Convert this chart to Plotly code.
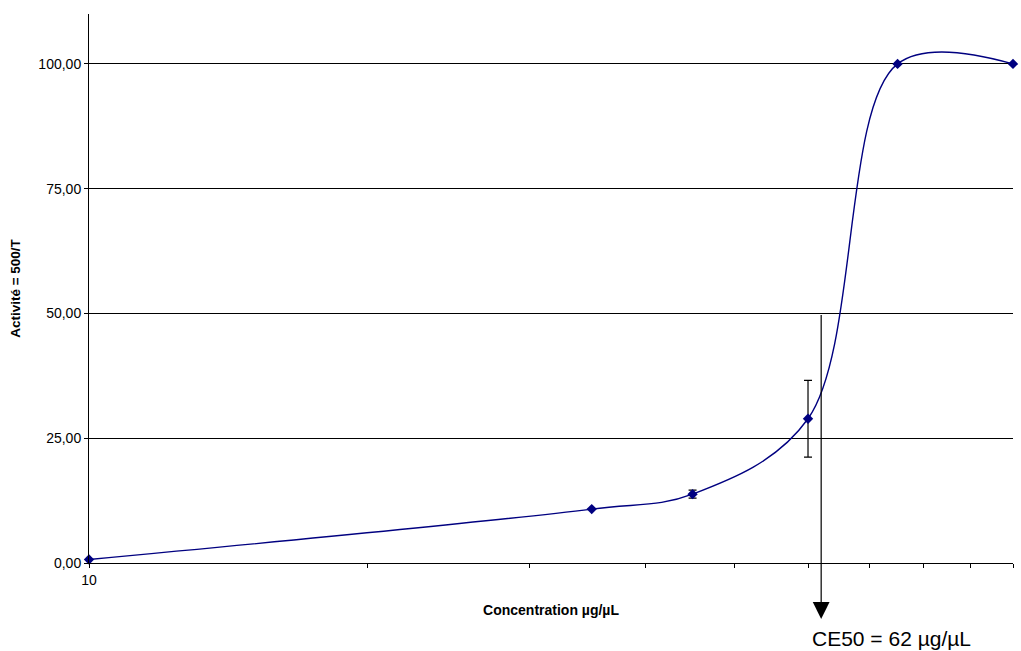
import plotly.graph_objects as go
import math

# Dose-response measurements
concentration = [10, 35, 45, 60, 75, 100]
activity = [0.7, 10.8, 13.8, 28.9, 100.0, 100.0]
error = [0, 0, 0.8, 7.7, 0, 0]

ce50 = 62
ce50_activity = 50
y_ticks = [0, 25, 50, 75, 100]
x_major = [10, 100]
x_minor = [20, 30, 40, 50, 60, 70, 80, 90]

navy = "#000080"

fig = go.Figure()
fig.add_trace(go.Scatter(
    x=concentration, y=activity,
    mode="lines+markers",
    line=dict(color=navy, width=1.4, shape="spline", smoothing=1),
    marker=dict(symbol="diamond", size=8, color=navy),
    error_y=dict(type="data", array=error, visible=True,
                 color="black", thickness=1.2, width=4),
    showlegend=False,
    cliponaxis=False,
))

# CE50 arrow from the curve down below the axis
fig.add_annotation(
    x=math.log10(ce50), y=-11.2, xref="x", yref="y",
    ax=math.log10(ce50), ay=ce50_activity, axref="x", ayref="y",
    text="", showarrow=True, arrowhead=2, arrowsize=2.8,
    arrowwidth=1.2, arrowcolor="black",
)
fig.add_annotation(
    x=0.868, y=-0.137, xref="paper", yref="paper",
    text=f"CE50 = {ce50} µg/µL", showarrow=False,
    font=dict(family="Liberation Sans, Arial", size=21, color="black"),
    xanchor="center", yanchor="middle",
)

fig.update_layout(
    width=1021, height=651,
    margin=dict(l=89, r=8, t=14, b=88),
    paper_bgcolor="white", plot_bgcolor="white",
    separators=", ",
    font=dict(family="Liberation Sans, Arial", size=14, color="black"),
    xaxis=dict(
        type="log", range=[1, 2],
        tickvals=x_major, ticktext=[str(v) for v in x_major],
        ticks="outside", ticklen=4, tickcolor="black", tickwidth=1,
        showline=True, linecolor="black", linewidth=1,
        showgrid=False, zeroline=False,
        minor=dict(tickvals=x_minor, ticks="outside", ticklen=4,
                   tickcolor="black", showgrid=False),
        title=dict(text="<b>Concentration µg/µL</b>",
                   font=dict(size=14), standoff=18),
        tickfont=dict(size=14),
    ),
    yaxis=dict(
        range=[0, 110],
        tickvals=y_ticks, tickformat=".2f",
        ticks="outside", ticklen=4, tickcolor="black",
        showline=True, linecolor="black", linewidth=1,
        showgrid=True, gridcolor="black", gridwidth=1,
        zeroline=False,
        title=dict(text="<b>Activité = 500/T</b>", font=dict(size=13.5),
                   standoff=14),
        tickfont=dict(size=14),
    ),
)

fig.write_html("out.html")
